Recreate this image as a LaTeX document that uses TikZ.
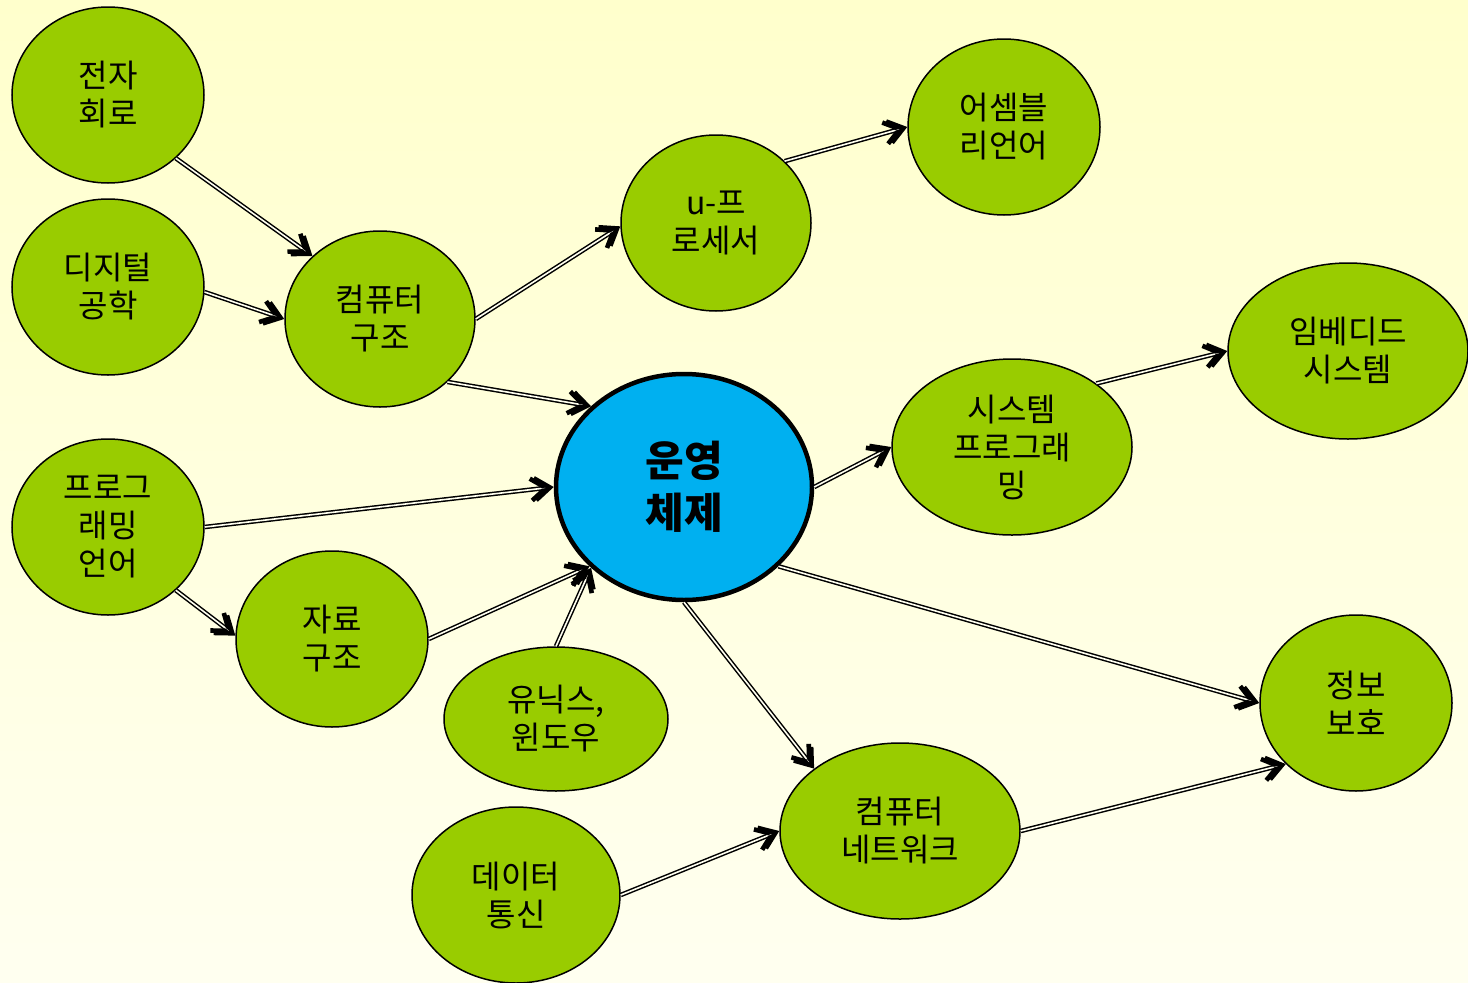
\documentclass[tikz,border=0pt]{standalone}
\usepackage{fontspec}
\setmainfont{Noto Sans CJK KR}
\usetikzlibrary{arrows.meta,shapes.geometric}
\definecolor{leaf}{HTML}{99CC00}
\definecolor{sky}{HTML}{00B0F0}
\definecolor{papertop}{HTML}{FFFFCC}
\definecolor{paperlow}{HTML}{FFFFF0}

\begin{document}
\begin{tikzpicture}[x=1pt,y=-1pt,
    topic/.style={ellipse,draw=black,line width=1.5pt,fill=leaf,inner sep=0pt,align=center,font=\fontsize{32}{38}\selectfont},
    core/.style={ellipse,draw=black,line width=4.5pt,fill=sky,inner sep=0pt,align=center,font=\fontsize{42}{52}\selectfont\bfseries},
    link/.style={preaction={draw,double=paperlow,double distance=1.6pt,line width=1.5pt,shorten >=4pt},draw=paperlow,line width=0.3pt,-{Straight Barb[length=15pt,width=22pt,line width=4.6pt,color=black]}}]
      \useasboundingbox (0,0) rectangle (1468,983);
      \shade[top color=papertop,bottom color=paperlow] (0,0) rectangle (1468,983);
      \node[topic,minimum width=192pt,minimum height=176pt] (circuit) at (108,95) {전자\\회로};
      \node[topic,minimum width=192pt,minimum height=176pt] (digital) at (108,287) {디지털\\공학};
      \node[topic,minimum width=190pt,minimum height=176pt] (arch) at (380,319) {컴퓨터\\구조};
      \node[topic,minimum width=190pt,minimum height=176pt] (cpu) at (716,223) {u-프\\로세서};
      \node[topic,minimum width=192pt,minimum height=176pt] (asm) at (1004,127) {어셈블\\리언어};
      \node[core,minimum width=256pt,minimum height=226pt] (os) at (684,487) {운영\\체제};
      \node[topic,minimum width=240pt,minimum height=176pt] (sysprog) at (1012,447) {시스템\\프로그래\\밍};
      \node[topic,minimum width=240pt,minimum height=176pt] (embedded) at (1348,351) {임베디드\\시스템};
      \node[topic,minimum width=192pt,minimum height=176pt] (proglang) at (108,527) {프로그\\래밍\\언어};
      \node[topic,minimum width=192pt,minimum height=176pt] (datastruct) at (332,639) {자료\\구조};
      \node[topic,minimum width=224pt,minimum height=144pt] (unixwin) at (556,719) {유닉스,\\윈도우};
      \node[topic,minimum width=192pt,minimum height=176pt] (security) at (1356,703) {정보\\보호};
      \node[topic,minimum width=240pt,minimum height=176pt] (network) at (900,831) {컴퓨터\\네트워크};
      \node[topic,minimum width=208pt,minimum height=176pt] (datacomm) at (516,895) {데이터\\통신};
      \draw[link] (circuit.-43) -- (arch.137);
      \draw[link] (digital.-3) -- (arch.180);
      \draw[link] (arch.0) -- (cpu.182);
      \draw[link] (cpu.42) -- (asm.180);
      \draw[link] (arch.-43) -- (os.139);
      \draw[link] (proglang.0) -- (os.180);
      \draw[link] (proglang.-43) -- (datastruct.178);
      \draw[link] (datastruct.0) -- (os.-140);
      \draw[link] (unixwin.90) -- (os.-139);
      \draw[link] (os.0) -- (sysprog.180);
      \draw[link] (sysprog.37) -- (embedded.180);
      \draw[link] (os.-40) -- (security.180);
      \draw[link] (os.-90) -- (network.144);
      \draw[link] (datacomm.0) -- (network.180);
      \draw[link] (network.0) -- (security.-139);
    \end{tikzpicture}
\end{document}
